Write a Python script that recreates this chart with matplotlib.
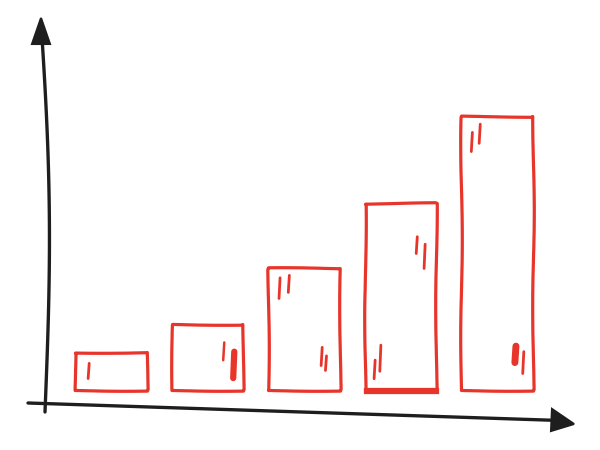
import numpy as np
import matplotlib
matplotlib.use("Agg")
import matplotlib.pyplot as plt
from matplotlib.patches import Polygon

categories = ["A", "B", "C", "D", "E"]
values = [1.39, 2.41, 4.45, 6.82, 10.0]

RED = "#e8352b"
INK = "#1e1e1e"

fig = plt.figure(figsize=(6, 4.5), dpi=100)
ax = fig.add_axes([0, 0, 1, 1])
ax.set_xlim(-1.150, 5.067)
ax.set_ylim(-2.19, 14.23)
ax.axis("off")

x = np.arange(len(categories))
bars = ax.bar(x, values, width=0.74, fill=False, edgecolor=RED, linewidth=2.3)
for b in bars:
    b.set_sketch_params(scale=0.8, length=220, randomness=2)
    b.set_joinstyle("round")

# glint strokes, relative to each bar (fx, fy0, fy1, lw)
glints = [
    [(0.18, 0.30, 0.70, 2.0)],
    [(0.72, 0.45, 0.72, 1.8), (0.86, 0.18, 0.58, 4.5)],
    [(0.15, 0.75, 0.92, 2.0), (0.28, 0.80, 0.94, 2.0), (0.74, 0.20, 0.35, 2.0), (0.80, 0.16, 0.28, 2.0)],
    [(0.72, 0.73, 0.82, 2.0), (0.83, 0.65, 0.78, 2.0), (0.13, 0.06, 0.16, 2.0), (0.21, 0.10, 0.24, 2.0)],
    [(0.14, 0.87, 0.94, 2.0), (0.25, 0.90, 0.97, 2.0), (0.75, 0.10, 0.16, 5.0), (0.86, 0.06, 0.14, 2.0)],
]
for b, gl in zip(bars, glints):
    bx, bw, bh = b.get_x(), b.get_width(), b.get_height()
    for fx, fy0, fy1, lw in gl:
        ax.plot([bx + bw * fx, bx + bw * (fx + 0.015)], [bh * fy0, bh * fy1],
                color=RED, lw=lw, solid_capstyle="round")

# thick bottom on 4th bar
b = bars[3]
ax.plot([b.get_x() + 0.02, b.get_x() + b.get_width()], [-0.05, -0.05], color=RED, lw=4.5)

# hand-drawn axes in figure pixel space
def px(xp, yp):
    return xp / 600.0, 1 - yp / 450.0

t = np.linspace(0, 1, 60)
yy = 412 - t * (412 - 40)
xx = 45 - 5 * t + 7 * np.sin(np.pi * t * 0.9)
ax.plot(*zip(*[px(a, c) for a, c in zip(xx, yy)]), transform=ax.transAxes,
        color=INK, lw=2.4, solid_capstyle="round")
ax.add_patch(Polygon([px(41, 18), px(32, 44), px(50, 44)], closed=True,
                     transform=ax.transAxes, facecolor=INK, edgecolor=INK, lw=1.5))

xs = np.linspace(28, 560, 60)
ys = 403 + (xs - 28) * (17.5 / 532)
ax.plot(*zip(*[px(a, c) for a, c in zip(xs, ys)]), transform=ax.transAxes,
        color=INK, lw=2.4, solid_capstyle="round")
ax.add_patch(Polygon([px(574, 424), px(552, 409), px(551, 431)], closed=True,
                     transform=ax.transAxes, facecolor=INK, edgecolor=INK, lw=1.5))

fig.savefig("out.png", dpi=100, facecolor="white")
